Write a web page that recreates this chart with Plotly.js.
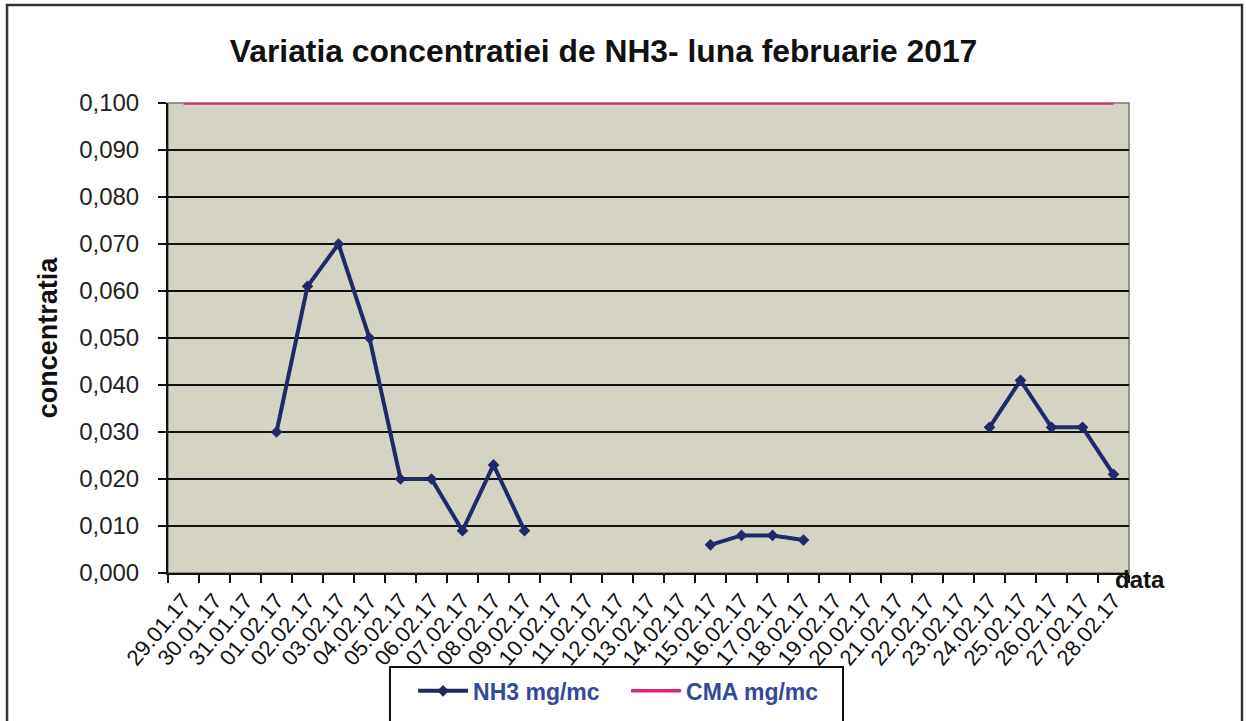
<!DOCTYPE html>
<html>
<head>
<meta charset="utf-8">
<script src="https://cdn.plot.ly/plotly-3.0.1.min.js"></script>
<style>
  html, body { margin: 0; padding: 0; background: #ffffff; }
  #chart { width: 1246px; height: 721px; }
</style>
</head>
<body>
<div id="chart"></div>
<script>
// ---- data ----
const dates = [
  "29.01.17","30.01.17","31.01.17","01.02.17","02.02.17","03.02.17","04.02.17",
  "05.02.17","06.02.17","07.02.17","08.02.17","09.02.17","10.02.17","11.02.17",
  "12.02.17","13.02.17","14.02.17","15.02.17","16.02.17","17.02.17","18.02.17",
  "19.02.17","20.02.17","21.02.17","22.02.17","23.02.17","24.02.17","25.02.17",
  "26.02.17","27.02.17","28.02.17"
];
const nh3 = [
  null, null, null, 0.030, 0.061, 0.070, 0.050,
  0.020, 0.020, 0.009, 0.023, 0.009, null, null,
  null, null, null, 0.006, 0.008, 0.008, 0.007,
  null, null, null, null, null, 0.031, 0.041,
  0.031, 0.031, 0.021
];
const cma = [
  0.1, 0.1, 0.1, 0.1, 0.1, 0.1, 0.1,
  0.1, 0.1, 0.1, 0.1, 0.1, 0.1, 0.1,
  0.1, 0.1, 0.1, 0.1, 0.1, 0.1, 0.1,
  0.1, 0.1, 0.1, 0.1, 0.1, 0.1, 0.1,
  0.1, 0.1, 0.1
];
const seriesNames = ["NH3 mg/mc", "CMA mg/mc"];
const chartTitle = "Variatia concentratiei de NH3- luna februarie 2017";
const yTitle = "concentratia";
const xTitle = "data";

const FONT = "Arial, 'Liberation Sans', sans-serif";

const traces = [
  {
    x: dates, y: nh3, name: seriesNames[0], type: "scatter", mode: "lines+markers",
    connectgaps: false,
    line: { color: "#1f2a68", width: 4 },
    marker: { symbol: "diamond", size: 9, color: "#1f2a68" }
  },
  {
    x: dates, y: cma, name: seriesNames[1], type: "scatter", mode: "lines",
    line: { color: "#e1247c", width: 3.5 },
    cliponaxis: false
  }
];

const layout = {
  width: 1246, height: 721,
  margin: { l: 168, r: 117, t: 103, b: 148, autoexpand: false },
  paper_bgcolor: "#ffffff",
  plot_bgcolor: "#d5d4c4",
  separators: ",.",
  font: { family: FONT, color: "#111111" },
  title: {
    text: "<b>" + chartTitle + "</b>",
    font: { family: FONT, size: 31.8, color: "#111111" },
    x: 0.4844, xref: "container", xanchor: "center",
    y: 0.93, yref: "container", yanchor: "middle"
  },
  showlegend: true,
  legend: {
    orientation: "h",
    x: 0.255, xanchor: "left",
    y: -0.205, yanchor: "top",
    bgcolor: "rgba(0,0,0,0)",
    borderwidth: 0,
    font: { family: FONT, size: 23, color: "#34499a", weight: "bold" },
    itemwidth: 50,
    entrywidth: 148
  },
  xaxis: {
    type: "category",
    range: [-0.5, 30.5],
    showline: true, linecolor: "#111111", linewidth: 2,
    ticks: "outside", tickson: "boundaries", ticklen: 8, tickwidth: 2, tickcolor: "#111111",
    showgrid: false, zeroline: false,
    tickangle: -50,
    tickfont: { family: FONT, size: 22, color: "#111111" },
    ticklabelstandoff: 4,
    automargin: false, fixedrange: true
  },
  yaxis: {
    range: [0, 0.1],
    dtick: 0.01, tick0: 0,
    tickformat: ".3f",
    showline: true, linecolor: "#111111", linewidth: 2,
    ticks: "outside", ticklen: 8, tickwidth: 2, tickcolor: "#111111",
    showgrid: true, gridcolor: "#111111", gridwidth: 1.5,
    zeroline: false,
    tickfont: { family: FONT, size: 24, color: "#222222" },
    ticklabelstandoff: 14,
    title: { text: "<b>" + yTitle + "</b>", font: { family: FONT, size: 27, color: "#111111" }, standoff: 14 },
    automargin: false, fixedrange: true
  },
  shapes: [
    { type: "rect", xref: "paper", yref: "paper", x0: 0, x1: 1, y0: 0, y1: 1,
      line: { color: "#7a7a6a", width: 1.5 }, layer: "below" },
    { type: "rect", xref: "paper", yref: "paper", x0: -0.1675, x1: 1.1176, y0: -0.6, y1: 1.2085,
      line: { color: "#333333", width: 2.5 }, fillcolor: "rgba(0,0,0,0)" },
    { type: "rect", xref: "paper", yref: "paper", x0: 0.231, x1: 0.7024, y0: -0.2, y1: -0.35,
      line: { color: "#111111", width: 2 }, fillcolor: "rgba(0,0,0,0)" }
  ],
  annotations: [
    { text: "<b>" + xTitle + "</b>", xref: "paper", yref: "paper",
      x: 1.0, y: 0.0, xanchor: "left", yanchor: "top", xshift: -16, yshift: 9,
      showarrow: false, font: { family: FONT, size: 24, color: "#111111" } }
  ]
};

Plotly.newPlot("chart", traces, layout, { displayModeBar: false, staticPlot: true });
</script>
</body>
</html>
